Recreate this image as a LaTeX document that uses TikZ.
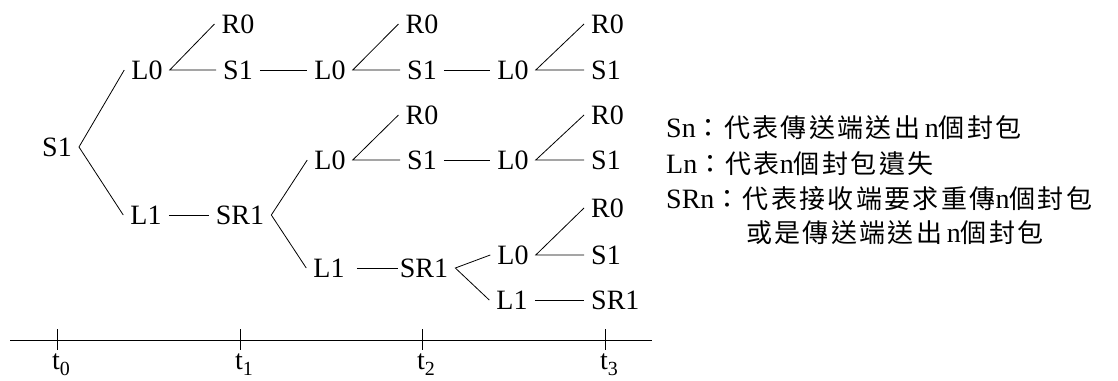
\documentclass[tikz,border=0pt]{standalone}
\usepackage{fontspec}
\setmainfont{Liberation Serif}
\newfontfamily\cjkfont[LetterSpace=9]{Noto Sans CJK TC}
\newcommand\zh[1]{{\cjkfont\fontsize{26}{28}\selectfont #1}}
\newcommand\tsub[1]{t{\fontsize{20}{20}\selectfont\raisebox{-6pt}{#1}}}
\begin{document}
\begin{tikzpicture}[x=1pt,y=-1pt,
  lab/.style={inner xsep=7pt, inner ysep=2pt, font=\fontsize{28}{28}\selectfont},
  leg/.style={inner sep=0pt, anchor=base west, font=\fontsize{28}{28}\selectfont},
  tlab/.style={inner sep=0pt, anchor=base, font=\fontsize{28}{28}\selectfont},
  conn/.style={line width=0.8pt},
]
\useasboundingbox (0,0) rectangle (1118,380);
% nodes
\node[lab] (s0) at (57,147) {S1};
\node[lab] (a1) at (147,70) {L0};
\node[lab] (a2) at (146,215) {L1};
\node[lab] (b1) at (238,24) {R0};
\node[lab] (b2) at (238,70) {S1};
\node[lab] (b3) at (240,215) {SR1};
\node[lab] (c1) at (330,70) {L0};
\node[lab] (c2) at (330,160) {L0};
\node[lab] (c3) at (329,268) {L1};
\node[lab] (d1) at (422,24) {R0};
\node[lab] (d2) at (422,70) {S1};
\node[lab] (d3) at (422,115) {R0};
\node[lab] (d4) at (422,160) {S1};
\node[lab] (d5) at (424,268) {SR1};
\node[lab] (e1) at (513,70) {L0};
\node[lab] (e2) at (513,160) {L0};
\node[lab] (e3) at (513,255) {L0};
\node[lab] (e4) at (512,300) {L1};
\node[lab,anchor=west] (f1) at (584,24) {R0};
\node[lab,anchor=west] (f2) at (584,70) {S1};
\node[lab,anchor=west] (f3) at (584,115) {R0};
\node[lab,anchor=west] (f4) at (584,160) {S1};
\node[lab,anchor=west] (f5) at (584,208) {R0};
\node[lab,anchor=west] (f6) at (584,255) {S1};
\node[lab,anchor=west] (f7) at (584,300) {SR1};
% connectors
\draw[conn] (a1.west) -- (s0.east) -- (a2.west);
\draw[conn] (b1.west) -- (a1.east) -- (b2.west);
\draw[conn] (b2) -- (c1);
\draw[conn] (a2) -- (b3);
\draw[conn] (c2.west) -- (b3.east) -- (c3.west);
\draw[conn] (d1.west) -- (c1.east) -- (d2.west);
\draw[conn] (d3.west) -- (c2.east) -- (d4.west);
\draw[conn,shorten <=5pt,shorten >=-5pt] (c3) -- (d5);
\draw[conn] (d2) -- (e1);
\draw[conn] (d4) -- (e2);
\draw[conn] (e3.west) -- (d5.east) -- (e4.west);
\draw[conn] (f1.west) -- (e1.east) -- (f2.west);
\draw[conn] (f3.west) -- (e2.east) -- (f4.west);
\draw[conn] (f5.west) -- (e3.east) -- (f6.west);
\draw[conn] (e4) -- (f7);
% time axis
\coordinate (ax0) at (10,340);
\coordinate (ax1) at (652,340);
\draw[conn] (ax0) -- (ax1);
\foreach \x/\i in {57/0,240/1,422/2,605/3}{
  \coordinate (tk\i a) at (\x,329);
  \coordinate (tk\i b) at (\x,350);
  \draw[conn] (tk\i a) -- (tk\i b);
  \node[tlab] (t\i) at (\x+4,369) {\tsub{\i}};
}
% legend
\node[leg] (l1) at (666,137) {Sn\zh{：代表傳送端送出}\,n\zh{個封包}};
\node[leg] (l2) at (666,173) {Ln\zh{：代表}n\zh{個封包遺失}};
\node[leg] (l3) at (666,208) {SRn\zh{：代表接收端要求重傳}n\zh{個封包}};
\node[leg] (l4) at (746,242) {\zh{或是傳送端送出}\,n\zh{個封包}};
\end{tikzpicture}
\end{document}
